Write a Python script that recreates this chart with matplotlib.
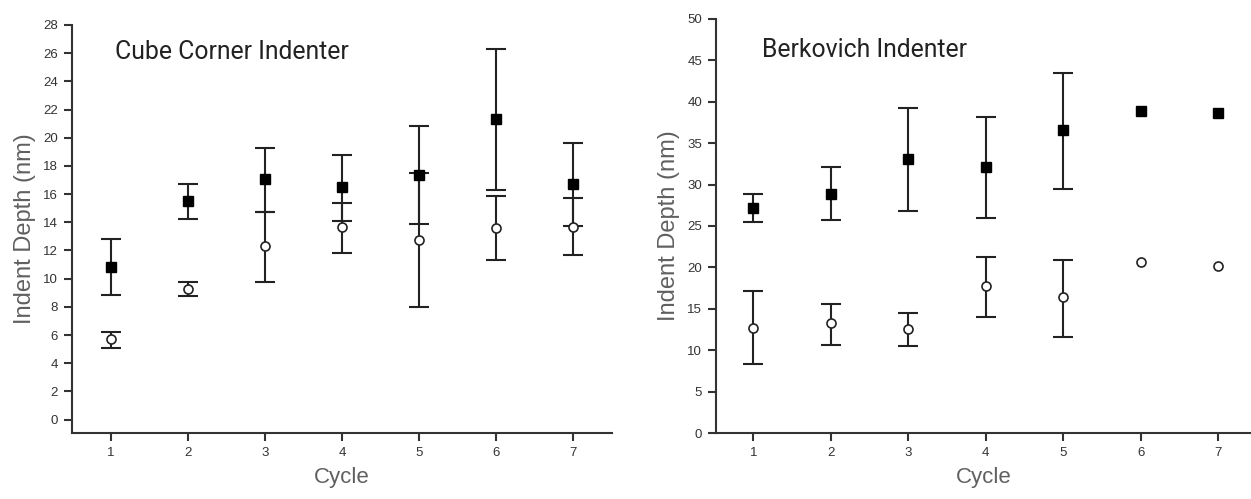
import numpy as np
import matplotlib
matplotlib.use("Agg")
import matplotlib.pyplot as plt

# ---- data ----
cycles = [1, 2, 3, 4, 5, 6, 7]

cc_filled = [10.8, 15.5, 17.05, 16.5, 17.35, 21.3, 16.7]
cc_filled_lo = [8.85, 14.2, 14.75, 14.1, 13.85, 16.3, 13.75]
cc_filled_hi = [12.8, 16.75, 19.25, 18.75, 20.85, 26.3, 19.65]
cc_open = [5.7, 9.3, 12.3, 13.7, 12.75, 13.6, 13.7]
cc_open_lo = [5.1, 8.75, 9.75, 11.85, 8.0, 11.35, 11.65]
cc_open_hi = [6.2, 9.75, 14.75, 15.4, 17.5, 15.9, 15.7]

bk_filled = [27.15, 28.9, 33.15, 32.15, 36.6, 38.9, 38.7]
bk_filled_lo = [25.5, 25.75, 26.85, 26.0, 29.5, np.nan, np.nan]
bk_filled_hi = [28.85, 32.1, 39.3, 38.15, 43.45, np.nan, np.nan]
bk_open = [12.7, 13.25, 12.6, 17.7, 16.4, 20.7, 20.15]
bk_open_lo = [8.35, 10.65, 10.45, 13.95, 11.65, np.nan, np.nan]
bk_open_hi = [17.2, 15.55, 14.55, 21.3, 20.95, np.nan, np.nan]

cc_yticks = list(range(0, 29, 2))
bk_yticks = list(range(0, 51, 5))

titles = ["Cube Corner Indenter", "Berkovich Indenter"]
ylabel = "Indent Depth (nm)"
xlabel = "Cycle"

TITLE_FONT = ["Liberation Sans Narrow", "Roboto", "DejaVu Sans"]
AX_FONT = ["Liberation Sans", "DejaVu Sans"]
AXCOL = "#333333"
LABCOL = "#606060"

fig = plt.figure(figsize=(12.51, 4.99), dpi=100)
W, H = 1251, 499
ax1 = fig.add_axes([72 / W, 1 - 433 / H, 540 / W, (433 - 25) / H])
ax2 = fig.add_axes([716 / W, 1 - 433 / H, (1251 - 716) / W, (433 - 19) / H])


def errs(vals, lo, hi):
    v = np.array(vals, float)
    return [v - np.array(lo, float), np.array(hi, float) - v]


def draw(ax, f, flo, fhi, o, olo, ohi):
    ax.errorbar(cycles, f, yerr=errs(f, flo, fhi), fmt="none", ecolor="#222222",
                elinewidth=1.5, capsize=7.5, capthick=1.5, zorder=2)
    ax.errorbar(cycles, o, yerr=errs(o, olo, ohi), fmt="none", ecolor="#222222",
                elinewidth=1.5, capsize=7.5, capthick=1.5, zorder=2)
    ax.plot(cycles, f, linestyle="none", marker="s", markersize=6.5,
            markerfacecolor="black", markeredgecolor="black", zorder=4)
    ax.plot(cycles, o, linestyle="none", marker="o", markersize=6.5,
            markerfacecolor="white", markeredgecolor="#222222",
            markeredgewidth=1.2, zorder=4)


draw(ax1, cc_filled, cc_filled_lo, cc_filled_hi, cc_open, cc_open_lo, cc_open_hi)
draw(ax2, bk_filled, bk_filled_lo, bk_filled_hi, bk_open, bk_open_lo, bk_open_hi)

ax1.set_xlim(0.5, 7.5)
ax1.set_ylim(-0.95, 28)
ax1.set_yticks(cc_yticks)
ax2.set_xlim(0.52, 7.42)
ax2.set_ylim(0, 50)
ax2.set_yticks(bk_yticks)

for ax, t, tx, ty in [(ax1, titles[0], 115, 52), (ax2, titles[1], 762, 50)]:
    for s in ["top", "right"]:
        ax.spines[s].set_visible(False)
    for s in ["left", "bottom"]:
        ax.spines[s].set_color(AXCOL)
        ax.spines[s].set_linewidth(1.5)
    ax.set_xticks(cycles)
    ax.tick_params(direction="out", length=6, width=1.5, color=AXCOL,
                   labelcolor=AXCOL, labelsize=9.5, pad=4)
    for lab in ax.get_xticklabels() + ax.get_yticklabels():
        lab.set_family(AX_FONT)
    ax.set_xlabel(xlabel, fontsize=16, color=LABCOL, family=AX_FONT, labelpad=6)
    ax.set_ylabel(ylabel, fontsize=17, color=LABCOL, family=AX_FONT, labelpad=5)
    fig.text(tx / W, 1 - ty / H, t, fontsize=17.8, color="#222222",
             family=TITLE_FONT, ha="left", va="center")
    ax.patch.set_alpha(0)

fig.savefig("out.png", dpi=100)
